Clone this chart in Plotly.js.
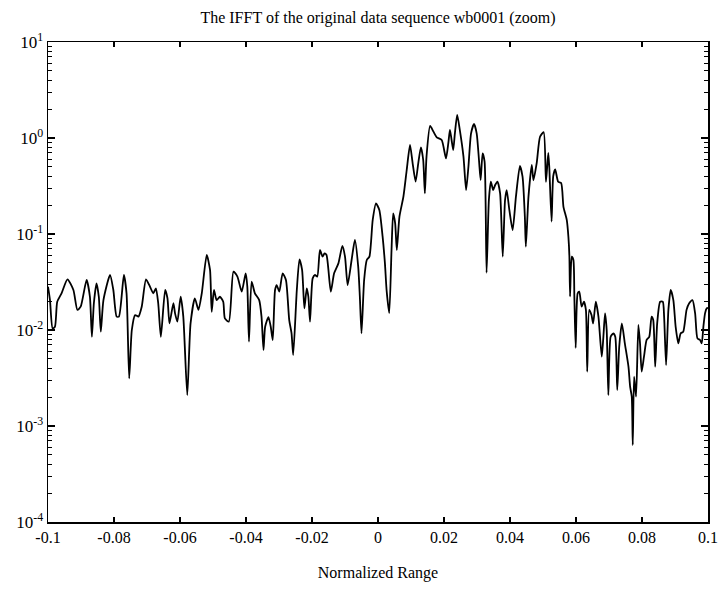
<!DOCTYPE html>
<html>
<head>
<meta charset="utf-8">
<script src="https://cdn.plot.ly/plotly-3.0.1.min.js"></script>
<style>html,body{margin:0;padding:0;background:#fff;}#chart{width:718px;height:592px;}</style>
</head>
<body>
<div id="chart"></div>
<script>
const titleText = "The IFFT of the original data sequence wb0001 (zoom)";
const xLabel = "Normalized Range";

const rangeX = [-0.1000,-0.0994,-0.0986,-0.0979,-0.0972,-0.0959,-0.0941,-0.0923,-0.0911,-0.0901,
-0.0883,-0.0873,-0.0867,-0.0861,-0.0853,-0.0846,-0.0840,-0.0832,-0.0812,-0.0802,
-0.0792,-0.0785,-0.0770,-0.0762,-0.0754,-0.0746,-0.0736,-0.0726,-0.0716,-0.0703,
-0.0691,-0.0681,-0.0673,-0.0666,-0.0658,-0.0645,-0.0638,-0.0632,-0.0620,-0.0615,
-0.0608,-0.0598,-0.0590,-0.0578,-0.0568,-0.0555,-0.0544,-0.0534,-0.0519,-0.0509,
-0.0504,-0.0497,-0.0489,-0.0479,-0.0469,-0.0464,-0.0452,-0.0438,-0.0426,-0.0413,
-0.0401,-0.0396,-0.0391,-0.0383,-0.0373,-0.0360,-0.0353,-0.0347,-0.0342,-0.0332,
-0.0325,-0.0319,-0.0312,-0.0307,-0.0299,-0.0289,-0.0279,-0.0269,-0.0262,-0.0257,
-0.0246,-0.0238,-0.0230,-0.0223,-0.0216,-0.0211,-0.0206,-0.0198,-0.0191,-0.0184,
-0.0176,-0.0168,-0.0162,-0.0156,-0.0143,-0.0133,-0.0120,-0.0108,-0.0100,-0.0092,
-0.0080,-0.0070,-0.0060,-0.0055,-0.0050,-0.0042,-0.0034,-0.0026,-0.0016,-0.0006,
0.0004,0.0014,0.0021,0.0026,0.0034,0.0041,0.0046,0.0052,0.0057,0.0065,
0.0077,0.0087,0.0097,0.0105,0.0114,0.0122,0.0130,0.0137,0.0142,0.0147,
0.0158,0.0168,0.0178,0.0193,0.0206,0.0213,0.0218,0.0223,0.0228,0.0233,
0.0240,0.0248,0.0259,0.0267,0.0274,0.0282,0.0291,0.0299,0.0306,0.0311,
0.0317,0.0323,0.0329,0.0336,0.0342,0.0349,0.0355,0.0362,0.0370,0.0378,
0.0385,0.0390,0.0398,0.0408,0.0418,0.0430,0.0438,0.0445,0.0448,0.0456,
0.0466,0.0471,0.0481,0.0491,0.0502,0.0509,0.0516,0.0519,0.0526,0.0531,
0.0537,0.0546,0.0555,0.0562,0.0572,0.0577,0.0580,0.0582,0.0587,0.0592,
0.0595,0.0599,0.0605,0.0610,0.0617,0.0624,0.0630,0.0634,0.0640,0.0647,
0.0652,0.0660,0.0668,0.0678,0.0683,0.0688,0.0693,0.0698,0.0705,0.0713,
0.0719,0.0725,0.0731,0.0739,0.0748,0.0759,0.0764,0.0769,0.0772,0.0776,
0.0782,0.0789,0.0794,0.0799,0.0806,0.0814,0.0822,0.0829,0.0834,0.0840,
0.0846,0.0855,0.0863,0.0867,0.0873,0.0880,0.0887,0.0895,0.0902,0.0910,
0.0917,0.0925,0.0935,0.0943,0.0953,0.0961,0.0968,0.0976,0.0981,0.0986,
0.0991,0.0996,0.1000];

const magnitude = [0.0283,0.0205,0.0104,0.0108,0.0197,0.0241,0.0337,0.0261,0.0162,0.0175,
0.0332,0.0222,0.0085,0.0190,0.0306,0.0222,0.0096,0.0205,0.0374,0.0261,
0.0138,0.0138,0.0374,0.0241,0.00314,0.0100,0.0143,0.0138,0.0175,0.0337,
0.0283,0.0241,0.0272,0.0190,0.0085,0.0261,0.0214,0.0117,0.0190,0.0149,
0.0122,0.0222,0.0138,0.00210,0.0117,0.0214,0.0162,0.0241,0.0604,0.0422,
0.0155,0.0261,0.0205,0.0222,0.0197,0.0132,0.0122,0.0406,0.0360,0.0251,
0.0389,0.0283,0.00755,0.0319,0.0241,0.0205,0.0138,0.00619,0.0108,0.0136,
0.0108,0.00787,0.0261,0.0294,0.0251,0.0389,0.0332,0.0127,0.00923,0.00549,
0.0261,0.0545,0.0422,0.0168,0.0272,0.0222,0.0122,0.0345,0.0374,0.0360,
0.0681,0.0581,0.0629,0.0604,0.0251,0.0389,0.0494,0.0750,0.0581,0.0294,
0.0536,0.0866,0.0457,0.0222,0.00923,0.0332,0.0536,0.0581,0.140,0.208,
0.178,0.0938,0.0494,0.0261,0.0150,0.0681,0.164,0.129,0.0681,0.152,
0.245,0.464,0.845,0.545,0.351,0.545,0.800,0.590,0.265,0.640,
1.334,1.164,1.016,0.953,0.614,0.879,1.211,0.953,0.750,1.119,
1.738,1.211,0.640,0.287,0.502,1.119,1.400,1.119,0.590,0.365,
0.692,0.566,0.0395,0.226,0.351,0.287,0.324,0.351,0.265,0.0581,
0.226,0.287,0.178,0.110,0.245,0.511,0.396,0.152,0.0738,0.245,
0.523,0.363,0.55,1.03,1.15,0.35,0.698,0.50,0.135,0.40,
0.47,0.35,0.34,0.192,0.140,0.093,0.058,0.0224,0.058,0.054,
0.0224,0.0065,0.0241,0.0251,0.0175,0.0197,0.0162,0.00368,0.0162,0.0143,
0.0117,0.0197,0.0138,0.00527,0.0085,0.0149,0.0100,0.0021,0.0085,0.0092,
0.0085,0.00237,0.0067,0.0117,0.00726,0.00415,0.00257,0.00202,0.000634,0.00327,
0.00202,0.0113,0.00726,0.00368,0.00527,0.00787,0.0085,0.0138,0.0127,0.00415,
0.0117,0.0197,0.0197,0.0138,0.00431,0.0162,0.0261,0.0205,0.0108,0.00726,
0.0092,0.0096,0.0162,0.0190,0.0205,0.0149,0.00818,0.00787,0.00726,0.0108,
0.0149,0.0168,0.017];

const xTickVals = [-0.1,-0.08,-0.06,-0.04,-0.02,0,0.02,0.04,0.06,0.08,0.1];
const xTickText = ["-0.1","-0.08","-0.06","-0.04","-0.02","0","0.02","0.04","0.06","0.08","0.1"];
const yTickVals = [1e-4,1e-3,1e-2,1e-1,1,10];
const yTickText = ["10<sup>-4</sup>","10<sup>-3</sup>","10<sup>-2</sup>","10<sup>-1</sup>","10<sup>0</sup>","10<sup>1</sup>"];

const serif = "Liberation Serif, Times New Roman, serif";

const trace = {
  x: rangeX, y: magnitude, type: "scatter", mode: "lines",
  line: {color: "#000", width: 1.8, shape: "spline", smoothing: 0.6}, hoverinfo: "skip"
};

const layout = {
  width: 718, height: 592,
  margin: {l: 48, r: 10, t: 42, b: 70},
  paper_bgcolor: "#fff", plot_bgcolor: "#fff",
  showlegend: false,
  font: {family: serif, color: "#000", size: 16},
  title: {text: titleText, font: {family: serif, size: 16, color: "#000"},
          x: 0.5, xref: "paper", xanchor: "center", y: 1, yref: "container", yanchor: "top", pad: {t: 12}},
  xaxis: {
    range: [-0.1, 0.1], tickmode: "array", tickvals: xTickVals, ticktext: xTickText,
    ticks: "inside", ticklen: 5, tickwidth: 1.2, tickcolor: "#000",
    showline: true, linecolor: "#000", linewidth: 1.5, mirror: "ticks",
    showgrid: false, zeroline: false,
    tickfont: {family: serif, size: 16, color: "#000"},
    title: {text: xLabel, font: {family: serif, size: 16, color: "#000"}, standoff: 22}
  },
  yaxis: {
    type: "log", range: [-4, 1], tickmode: "array", tickvals: yTickVals, ticktext: yTickText,
    ticks: "inside", ticklen: 7, tickwidth: 1.2, tickcolor: "#000",
    minor: {ticks: "inside", ticklen: 4, tickwidth: 1, tickcolor: "#000", dtick: "D1", showgrid: false},
    showline: true, linecolor: "#000", linewidth: 1.5, mirror: "ticks",
    showgrid: false, zeroline: false,
    tickfont: {family: serif, size: 17, color: "#000"}
  }
};

Plotly.newPlot("chart", [trace], layout, {displayModeBar: false, staticPlot: true});
</script>
</body>
</html>
